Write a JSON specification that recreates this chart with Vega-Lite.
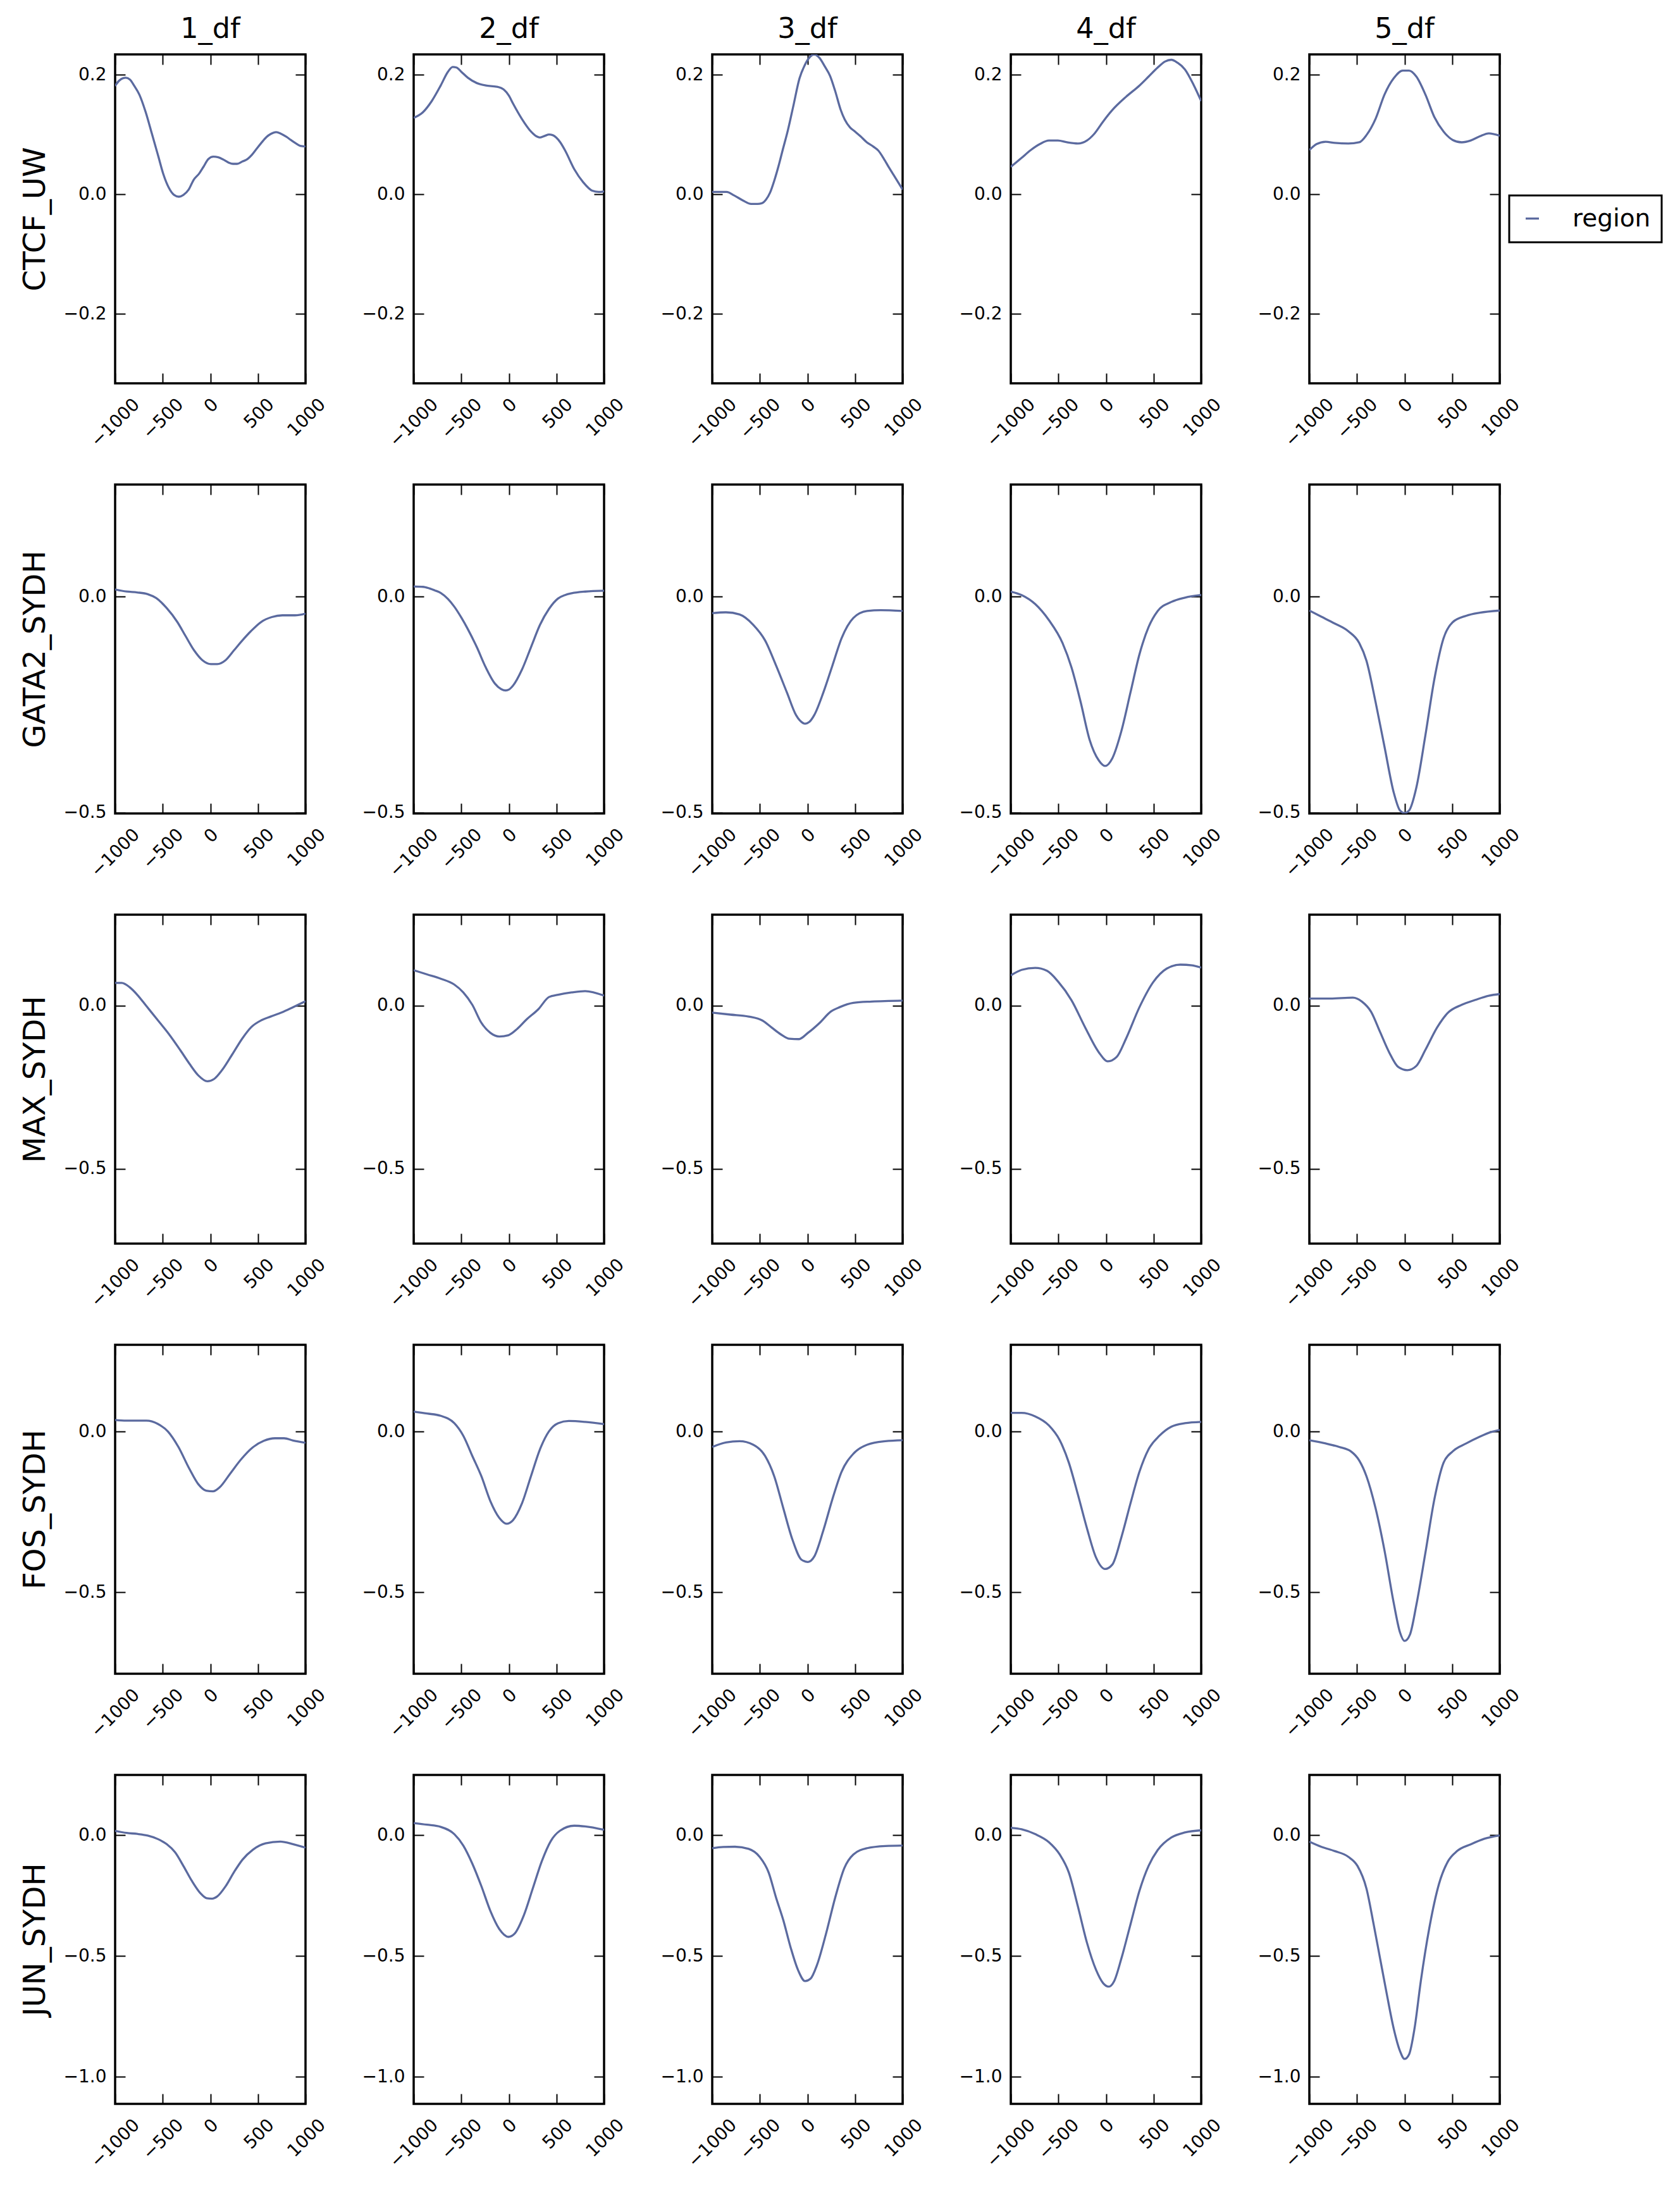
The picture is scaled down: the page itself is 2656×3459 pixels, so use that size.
{
"$schema":"https://vega.github.io/schema/vega-lite/v6.json",
"background":"white",
"padding":{"left":30,"top":21,"right":5,"bottom":5},
"columns":5,
"spacing":{"row":160,"column":171},
"bounds":"flush",
"datasets":{
"CTCF_UW_1":[{"pos":-1000,"value":0.181},{"pos":-989,"value":0.184},{"pos":-934,"value":0.193},{"pos":-890,"value":0.195},{"pos":-845,"value":0.192},{"pos":-801,"value":0.182},{"pos":-746,"value":0.167},{"pos":-680,"value":0.138},{"pos":-613,"value":0.101},{"pos":-547,"value":0.064},{"pos":-492,"value":0.033},{"pos":-436,"value":0.011},{"pos":-381,"value":-0.001},{"pos":-330,"value":-0.004},{"pos":-282,"value":-0.001},{"pos":-227,"value":0.008},{"pos":-176,"value":0.024},{"pos":-116,"value":0.035},{"pos":-72,"value":0.046},{"pos":-21,"value":0.059},{"pos":32,"value":0.063},{"pos":83,"value":0.062},{"pos":138,"value":0.058},{"pos":193,"value":0.053},{"pos":238,"value":0.051},{"pos":282,"value":0.051},{"pos":337,"value":0.055},{"pos":381,"value":0.058},{"pos":436,"value":0.066},{"pos":481,"value":0.075},{"pos":536,"value":0.086},{"pos":591,"value":0.096},{"pos":635,"value":0.101},{"pos":691,"value":0.104},{"pos":746,"value":0.101},{"pos":801,"value":0.096},{"pos":845,"value":0.091},{"pos":901,"value":0.085},{"pos":945,"value":0.081},{"pos":1000,"value":0.080}],
"CTCF_UW_2":[{"pos":-1000,"value":0.128},{"pos":-905,"value":0.137},{"pos":-810,"value":0.156},{"pos":-716,"value":0.182},{"pos":-640,"value":0.205},{"pos":-590,"value":0.213},{"pos":-550,"value":0.212},{"pos":-500,"value":0.205},{"pos":-431,"value":0.195},{"pos":-336,"value":0.186},{"pos":-242,"value":0.182},{"pos":-128,"value":0.180},{"pos":-52,"value":0.175},{"pos":0,"value":0.165},{"pos":43,"value":0.152},{"pos":137,"value":0.126},{"pos":232,"value":0.105},{"pos":290,"value":0.097},{"pos":327,"value":0.095},{"pos":380,"value":0.098},{"pos":422,"value":0.100},{"pos":460,"value":0.099},{"pos":498,"value":0.095},{"pos":540,"value":0.087},{"pos":592,"value":0.073},{"pos":687,"value":0.042},{"pos":782,"value":0.020},{"pos":877,"value":0.006},{"pos":943,"value":0.004},{"pos":1000,"value":0.005}],
"CTCF_UW_3":[{"pos":-1000,"value":0.004},{"pos":-923,"value":0.004},{"pos":-850,"value":0.004},{"pos":-768,"value":-0.002},{"pos":-680,"value":-0.010},{"pos":-591,"value":-0.016},{"pos":-525,"value":-0.016},{"pos":-481,"value":-0.015},{"pos":-436,"value":-0.009},{"pos":-392,"value":0.003},{"pos":-348,"value":0.023},{"pos":-304,"value":0.047},{"pos":-260,"value":0.074},{"pos":-204,"value":0.108},{"pos":-149,"value":0.147},{"pos":-83,"value":0.194},{"pos":-28,"value":0.216},{"pos":28,"value":0.230},{"pos":72,"value":0.234},{"pos":127,"value":0.228},{"pos":182,"value":0.214},{"pos":238,"value":0.198},{"pos":293,"value":0.172},{"pos":348,"value":0.142},{"pos":392,"value":0.125},{"pos":447,"value":0.112},{"pos":492,"value":0.106},{"pos":558,"value":0.097},{"pos":624,"value":0.087},{"pos":691,"value":0.080},{"pos":746,"value":0.073},{"pos":801,"value":0.060},{"pos":856,"value":0.045},{"pos":923,"value":0.028},{"pos":1000,"value":0.008}],
"CTCF_UW_4":[{"pos":-1000,"value":0.046},{"pos":-886,"value":0.061},{"pos":-790,"value":0.074},{"pos":-695,"value":0.084},{"pos":-600,"value":0.090},{"pos":-505,"value":0.090},{"pos":-410,"value":0.087},{"pos":-295,"value":0.085},{"pos":-200,"value":0.090},{"pos":-124,"value":0.101},{"pos":-29,"value":0.122},{"pos":67,"value":0.141},{"pos":210,"value":0.163},{"pos":352,"value":0.182},{"pos":448,"value":0.197},{"pos":543,"value":0.212},{"pos":619,"value":0.222},{"pos":686,"value":0.225},{"pos":752,"value":0.220},{"pos":829,"value":0.209},{"pos":924,"value":0.182},{"pos":1000,"value":0.156}],
"CTCF_UW_5":[{"pos":-1000,"value":0.074},{"pos":-924,"value":0.084},{"pos":-829,"value":0.088},{"pos":-733,"value":0.086},{"pos":-590,"value":0.085},{"pos":-476,"value":0.087},{"pos":-400,"value":0.099},{"pos":-305,"value":0.126},{"pos":-210,"value":0.167},{"pos":-114,"value":0.194},{"pos":-19,"value":0.207},{"pos":48,"value":0.207},{"pos":124,"value":0.197},{"pos":219,"value":0.167},{"pos":314,"value":0.129},{"pos":410,"value":0.105},{"pos":505,"value":0.091},{"pos":600,"value":0.087},{"pos":695,"value":0.090},{"pos":790,"value":0.097},{"pos":886,"value":0.102},{"pos":1000,"value":0.098}],
"GATA2_SYDH_1":[{"pos":-1000,"value":0.017},{"pos":-878,"value":0.012},{"pos":-768,"value":0.010},{"pos":-657,"value":0.006},{"pos":-569,"value":-0.003},{"pos":-459,"value":-0.026},{"pos":-348,"value":-0.058},{"pos":-260,"value":-0.091},{"pos":-171,"value":-0.124},{"pos":-83,"value":-0.147},{"pos":6,"value":-0.156},{"pos":72,"value":-0.156},{"pos":160,"value":-0.147},{"pos":249,"value":-0.124},{"pos":337,"value":-0.101},{"pos":425,"value":-0.080},{"pos":536,"value":-0.058},{"pos":646,"value":-0.047},{"pos":757,"value":-0.043},{"pos":889,"value":-0.043},{"pos":1000,"value":-0.039}],
"GATA2_SYDH_2":[{"pos":-1000,"value":0.024},{"pos":-900,"value":0.023},{"pos":-858,"value":0.021},{"pos":-780,"value":0.015},{"pos":-716,"value":0.009},{"pos":-640,"value":-0.005},{"pos":-573,"value":-0.023},{"pos":-500,"value":-0.048},{"pos":-431,"value":-0.075},{"pos":-336,"value":-0.117},{"pos":-242,"value":-0.164},{"pos":-147,"value":-0.201},{"pos":-80,"value":-0.214},{"pos":-33,"value":-0.217},{"pos":0,"value":-0.215},{"pos":43,"value":-0.206},{"pos":137,"value":-0.169},{"pos":232,"value":-0.117},{"pos":327,"value":-0.065},{"pos":422,"value":-0.028},{"pos":517,"value":-0.004},{"pos":590,"value":0.004},{"pos":659,"value":0.008},{"pos":801,"value":0.012},{"pos":1000,"value":0.014}],
"GATA2_SYDH_3":[{"pos":-1000,"value":-0.038},{"pos":-856,"value":-0.036},{"pos":-713,"value":-0.041},{"pos":-569,"value":-0.065},{"pos":-445,"value":-0.101},{"pos":-330,"value":-0.159},{"pos":-215,"value":-0.222},{"pos":-120,"value":-0.274},{"pos":-50,"value":-0.292},{"pos":-24,"value":-0.294},{"pos":20,"value":-0.290},{"pos":72,"value":-0.274},{"pos":167,"value":-0.222},{"pos":263,"value":-0.159},{"pos":359,"value":-0.096},{"pos":483,"value":-0.049},{"pos":627,"value":-0.033},{"pos":770,"value":-0.031},{"pos":1000,"value":-0.033}],
"GATA2_SYDH_4":[{"pos":-1000,"value":0.012},{"pos":-886,"value":0.004},{"pos":-743,"value":-0.017},{"pos":-600,"value":-0.054},{"pos":-457,"value":-0.107},{"pos":-362,"value":-0.164},{"pos":-267,"value":-0.243},{"pos":-171,"value":-0.332},{"pos":-76,"value":-0.379},{"pos":-10,"value":-0.392},{"pos":67,"value":-0.374},{"pos":162,"value":-0.311},{"pos":257,"value":-0.222},{"pos":352,"value":-0.133},{"pos":448,"value":-0.070},{"pos":543,"value":-0.033},{"pos":686,"value":-0.012},{"pos":829,"value":-0.002},{"pos":1000,"value":0.004}],
"GATA2_SYDH_5":[{"pos":-1000,"value":-0.032},{"pos":-876,"value":-0.046},{"pos":-733,"value":-0.062},{"pos":-590,"value":-0.080},{"pos":-476,"value":-0.107},{"pos":-400,"value":-0.148},{"pos":-305,"value":-0.243},{"pos":-210,"value":-0.348},{"pos":-114,"value":-0.453},{"pos":-48,"value":-0.495},{"pos":0,"value":-0.501},{"pos":48,"value":-0.495},{"pos":124,"value":-0.442},{"pos":219,"value":-0.321},{"pos":314,"value":-0.190},{"pos":410,"value":-0.096},{"pos":505,"value":-0.059},{"pos":648,"value":-0.044},{"pos":790,"value":-0.037},{"pos":1000,"value":-0.032}],
"MAX_SYDH_1":[{"pos":-1000,"value":0.069},{"pos":-931,"value":0.069},{"pos":-848,"value":0.056},{"pos":-765,"value":0.032},{"pos":-671,"value":-0.002},{"pos":-552,"value":-0.045},{"pos":-434,"value":-0.088},{"pos":-315,"value":-0.137},{"pos":-220,"value":-0.178},{"pos":-126,"value":-0.214},{"pos":-31,"value":-0.232},{"pos":40,"value":-0.225},{"pos":123,"value":-0.198},{"pos":230,"value":-0.150},{"pos":336,"value":-0.101},{"pos":431,"value":-0.066},{"pos":538,"value":-0.045},{"pos":633,"value":-0.034},{"pos":751,"value":-0.021},{"pos":870,"value":-0.005},{"pos":1000,"value":0.013}],
"MAX_SYDH_2":[{"pos":-1000,"value":0.108},{"pos":-858,"value":0.095},{"pos":-716,"value":0.082},{"pos":-573,"value":0.064},{"pos":-479,"value":0.040},{"pos":-384,"value":0.002},{"pos":-289,"value":-0.053},{"pos":-194,"value":-0.084},{"pos":-100,"value":-0.095},{"pos":-5,"value":-0.091},{"pos":90,"value":-0.071},{"pos":185,"value":-0.043},{"pos":308,"value":-0.012},{"pos":422,"value":0.026},{"pos":517,"value":0.033},{"pos":659,"value":0.040},{"pos":801,"value":0.044},{"pos":1000,"value":0.030}],
"MAX_SYDH_3":[{"pos":-1000,"value":-0.022},{"pos":-809,"value":-0.028},{"pos":-617,"value":-0.034},{"pos":-474,"value":-0.046},{"pos":-378,"value":-0.067},{"pos":-282,"value":-0.088},{"pos":-187,"value":-0.102},{"pos":-91,"value":-0.103},{"pos":5,"value":-0.084},{"pos":129,"value":-0.053},{"pos":244,"value":-0.019},{"pos":340,"value":-0.005},{"pos":483,"value":0.008},{"pos":675,"value":0.012},{"pos":1000,"value":0.015}],
"MAX_SYDH_4":[{"pos":-1000,"value":0.092},{"pos":-886,"value":0.109},{"pos":-743,"value":0.115},{"pos":-619,"value":0.106},{"pos":-505,"value":0.074},{"pos":-362,"value":0.016},{"pos":-219,"value":-0.067},{"pos":-76,"value":-0.143},{"pos":19,"value":-0.171},{"pos":114,"value":-0.157},{"pos":210,"value":-0.102},{"pos":352,"value":-0.005},{"pos":495,"value":0.071},{"pos":638,"value":0.113},{"pos":781,"value":0.125},{"pos":905,"value":0.123},{"pos":1000,"value":0.116}],
"MAX_SYDH_5":[{"pos":-1000,"value":0.021},{"pos":-781,"value":0.021},{"pos":-543,"value":0.024},{"pos":-448,"value":0.012},{"pos":-352,"value":-0.019},{"pos":-257,"value":-0.081},{"pos":-162,"value":-0.143},{"pos":-67,"value":-0.188},{"pos":29,"value":-0.198},{"pos":124,"value":-0.185},{"pos":219,"value":-0.136},{"pos":343,"value":-0.067},{"pos":457,"value":-0.022},{"pos":600,"value":0.002},{"pos":743,"value":0.017},{"pos":886,"value":0.030},{"pos":1000,"value":0.035}],
"FOS_SYDH_1":[{"pos":-1000,"value":0.036},{"pos":-884,"value":0.034},{"pos":-789,"value":0.034},{"pos":-671,"value":0.034},{"pos":-552,"value":0.024},{"pos":-445,"value":0.000},{"pos":-339,"value":-0.046},{"pos":-220,"value":-0.116},{"pos":-126,"value":-0.164},{"pos":-43,"value":-0.184},{"pos":28,"value":-0.186},{"pos":100,"value":-0.173},{"pos":206,"value":-0.132},{"pos":325,"value":-0.086},{"pos":443,"value":-0.050},{"pos":562,"value":-0.029},{"pos":680,"value":-0.021},{"pos":775,"value":-0.021},{"pos":870,"value":-0.028},{"pos":1000,"value":-0.035}],
"FOS_SYDH_2":[{"pos":-1000,"value":0.062},{"pos":-858,"value":0.056},{"pos":-716,"value":0.049},{"pos":-573,"value":0.026},{"pos":-479,"value":-0.013},{"pos":-384,"value":-0.076},{"pos":-289,"value":-0.139},{"pos":-194,"value":-0.217},{"pos":-100,"value":-0.269},{"pos":-24,"value":-0.287},{"pos":43,"value":-0.276},{"pos":137,"value":-0.224},{"pos":232,"value":-0.139},{"pos":327,"value":-0.055},{"pos":422,"value":0.001},{"pos":517,"value":0.026},{"pos":630,"value":0.033},{"pos":801,"value":0.030},{"pos":1000,"value":0.023}],
"FOS_SYDH_3":[{"pos":-1000,"value":-0.048},{"pos":-856,"value":-0.034},{"pos":-713,"value":-0.030},{"pos":-569,"value":-0.041},{"pos":-445,"value":-0.076},{"pos":-349,"value":-0.139},{"pos":-254,"value":-0.238},{"pos":-158,"value":-0.336},{"pos":-62,"value":-0.399},{"pos":5,"value":-0.406},{"pos":72,"value":-0.389},{"pos":167,"value":-0.308},{"pos":263,"value":-0.210},{"pos":359,"value":-0.125},{"pos":483,"value":-0.069},{"pos":627,"value":-0.041},{"pos":818,"value":-0.030},{"pos":1000,"value":-0.027}],
"FOS_SYDH_4":[{"pos":-1000,"value":0.058},{"pos":-886,"value":0.058},{"pos":-743,"value":0.047},{"pos":-600,"value":0.019},{"pos":-486,"value":-0.027},{"pos":-390,"value":-0.097},{"pos":-295,"value":-0.196},{"pos":-200,"value":-0.301},{"pos":-105,"value":-0.392},{"pos":-10,"value":-0.428},{"pos":67,"value":-0.414},{"pos":162,"value":-0.329},{"pos":257,"value":-0.224},{"pos":352,"value":-0.125},{"pos":448,"value":-0.055},{"pos":562,"value":-0.013},{"pos":686,"value":0.015},{"pos":829,"value":0.026},{"pos":1000,"value":0.030}],
"FOS_SYDH_5":[{"pos":-1000,"value":-0.027},{"pos":-829,"value":-0.037},{"pos":-686,"value":-0.048},{"pos":-562,"value":-0.062},{"pos":-476,"value":-0.090},{"pos":-400,"value":-0.139},{"pos":-305,"value":-0.238},{"pos":-210,"value":-0.371},{"pos":-114,"value":-0.533},{"pos":-48,"value":-0.625},{"pos":0,"value":-0.652},{"pos":57,"value":-0.632},{"pos":124,"value":-0.540},{"pos":219,"value":-0.378},{"pos":314,"value":-0.210},{"pos":410,"value":-0.097},{"pos":505,"value":-0.062},{"pos":648,"value":-0.037},{"pos":790,"value":-0.016},{"pos":905,"value":-0.002},{"pos":1000,"value":0.005}],
"JUN_SYDH_1":[{"pos":-1000,"value":0.018},{"pos":-878,"value":0.009},{"pos":-768,"value":0.005},{"pos":-657,"value":-0.002},{"pos":-547,"value":-0.017},{"pos":-459,"value":-0.037},{"pos":-370,"value":-0.071},{"pos":-282,"value":-0.128},{"pos":-193,"value":-0.190},{"pos":-105,"value":-0.240},{"pos":-39,"value":-0.261},{"pos":17,"value":-0.263},{"pos":72,"value":-0.254},{"pos":160,"value":-0.212},{"pos":249,"value":-0.153},{"pos":337,"value":-0.102},{"pos":448,"value":-0.060},{"pos":580,"value":-0.034},{"pos":735,"value":-0.027},{"pos":867,"value":-0.037},{"pos":1000,"value":-0.052}],
"JUN_SYDH_2":[{"pos":-1000,"value":0.050},{"pos":-858,"value":0.043},{"pos":-716,"value":0.034},{"pos":-573,"value":0.004},{"pos":-479,"value":-0.043},{"pos":-384,"value":-0.118},{"pos":-289,"value":-0.211},{"pos":-194,"value":-0.314},{"pos":-100,"value":-0.389},{"pos":-5,"value":-0.421},{"pos":62,"value":-0.407},{"pos":156,"value":-0.333},{"pos":251,"value":-0.221},{"pos":346,"value":-0.108},{"pos":441,"value":-0.024},{"pos":536,"value":0.018},{"pos":687,"value":0.039},{"pos":801,"value":0.036},{"pos":1000,"value":0.022}],
"JUN_SYDH_3":[{"pos":-1000,"value":-0.054},{"pos":-885,"value":-0.049},{"pos":-761,"value":-0.048},{"pos":-617,"value":-0.057},{"pos":-502,"value":-0.090},{"pos":-407,"value":-0.155},{"pos":-330,"value":-0.258},{"pos":-254,"value":-0.351},{"pos":-177,"value":-0.464},{"pos":-100,"value":-0.557},{"pos":-24,"value":-0.604},{"pos":33,"value":-0.594},{"pos":100,"value":-0.538},{"pos":196,"value":-0.407},{"pos":292,"value":-0.258},{"pos":388,"value":-0.136},{"pos":483,"value":-0.080},{"pos":627,"value":-0.054},{"pos":818,"value":-0.045},{"pos":1000,"value":-0.043}],
"JUN_SYDH_4":[{"pos":-1000,"value":0.030},{"pos":-886,"value":0.024},{"pos":-743,"value":0.004},{"pos":-600,"value":-0.029},{"pos":-486,"value":-0.080},{"pos":-390,"value":-0.155},{"pos":-295,"value":-0.295},{"pos":-200,"value":-0.445},{"pos":-105,"value":-0.557},{"pos":-29,"value":-0.613},{"pos":29,"value":-0.627},{"pos":86,"value":-0.604},{"pos":162,"value":-0.510},{"pos":257,"value":-0.370},{"pos":352,"value":-0.230},{"pos":448,"value":-0.127},{"pos":543,"value":-0.062},{"pos":686,"value":-0.010},{"pos":829,"value":0.011},{"pos":1000,"value":0.020}],
"JUN_SYDH_5":[{"pos":-1000,"value":-0.027},{"pos":-876,"value":-0.048},{"pos":-733,"value":-0.066},{"pos":-590,"value":-0.090},{"pos":-495,"value":-0.127},{"pos":-400,"value":-0.221},{"pos":-324,"value":-0.370},{"pos":-257,"value":-0.510},{"pos":-190,"value":-0.650},{"pos":-114,"value":-0.800},{"pos":-48,"value":-0.893},{"pos":0,"value":-0.926},{"pos":48,"value":-0.907},{"pos":105,"value":-0.800},{"pos":171,"value":-0.604},{"pos":267,"value":-0.370},{"pos":362,"value":-0.202},{"pos":457,"value":-0.108},{"pos":552,"value":-0.066},{"pos":695,"value":-0.038},{"pos":838,"value":-0.015},{"pos":1000,"value":-0.001}]
},
"concat":[
{"data":{"name":"CTCF_UW_1"},"width":301,"height":520,"title":"1_df","layer":[{"mark":{"type":"line","interpolate":"monotone","clip":true},"encoding":{"x":{"field":"pos","type":"quantitative","scale":{"domain":[-1000,1000],"nice":false,"zero":false},"axis":{"values":[-1000,-500,0,500,1000],"format":"d","title":null,"labelOffset":{"condition":[{"test":"datum.value==-1000","value":24},{"test":"datum.value==-500","value":18},{"test":"datum.value==500","value":11},{"test":"datum.value==1000","value":17}],"value":-2}}},"y":{"field":"value","type":"quantitative","scale":{"domain":[-0.316,0.234],"nice":false,"zero":false},"axis":{"values":[-0.2,0,0.2],"format":".1f","title":"CTCF_UW"}},"color":{"datum":"region","type":"nominal","legend":{"title":null,"orient":"none","legendX":2204,"legendY":223}}}},{"mark":{"type":"line","opacity":0},"encoding":{"x":{"field":"pos","type":"quantitative","axis":{"orient":"top","values":[-1000,-500,0,500,1000],"title":null}},"y":{"field":"value","type":"quantitative","axis":{"orient":"right","values":[-0.2,0,0.2],"title":null}}}}],"resolve":{"axis":{"x":"independent","y":"independent"}}},
{"data":{"name":"CTCF_UW_2"},"width":301,"height":520,"title":"2_df","layer":[{"mark":{"type":"line","interpolate":"monotone","clip":true},"encoding":{"x":{"field":"pos","type":"quantitative","scale":{"domain":[-1000,1000],"nice":false,"zero":false},"axis":{"values":[-1000,-500,0,500,1000],"format":"d","title":null,"labelOffset":{"condition":[{"test":"datum.value==-1000","value":24},{"test":"datum.value==-500","value":18},{"test":"datum.value==500","value":11},{"test":"datum.value==1000","value":17}],"value":-2}}},"y":{"field":"value","type":"quantitative","scale":{"domain":[-0.316,0.234],"nice":false,"zero":false},"axis":{"values":[-0.2,0,0.2],"format":".1f","title":null}},"color":{"datum":"region","type":"nominal","legend":{"title":null,"orient":"none","legendX":2204,"legendY":223}}}},{"mark":{"type":"line","opacity":0},"encoding":{"x":{"field":"pos","type":"quantitative","axis":{"orient":"top","values":[-1000,-500,0,500,1000],"title":null}},"y":{"field":"value","type":"quantitative","axis":{"orient":"right","values":[-0.2,0,0.2],"title":null}}}}],"resolve":{"axis":{"x":"independent","y":"independent"}}},
{"data":{"name":"CTCF_UW_3"},"width":301,"height":520,"title":"3_df","layer":[{"mark":{"type":"line","interpolate":"monotone","clip":true},"encoding":{"x":{"field":"pos","type":"quantitative","scale":{"domain":[-1000,1000],"nice":false,"zero":false},"axis":{"values":[-1000,-500,0,500,1000],"format":"d","title":null,"labelOffset":{"condition":[{"test":"datum.value==-1000","value":24},{"test":"datum.value==-500","value":18},{"test":"datum.value==500","value":11},{"test":"datum.value==1000","value":17}],"value":-2}}},"y":{"field":"value","type":"quantitative","scale":{"domain":[-0.316,0.234],"nice":false,"zero":false},"axis":{"values":[-0.2,0,0.2],"format":".1f","title":null}},"color":{"datum":"region","type":"nominal","legend":{"title":null,"orient":"none","legendX":2204,"legendY":223}}}},{"mark":{"type":"line","opacity":0},"encoding":{"x":{"field":"pos","type":"quantitative","axis":{"orient":"top","values":[-1000,-500,0,500,1000],"title":null}},"y":{"field":"value","type":"quantitative","axis":{"orient":"right","values":[-0.2,0,0.2],"title":null}}}}],"resolve":{"axis":{"x":"independent","y":"independent"}}},
{"data":{"name":"CTCF_UW_4"},"width":301,"height":520,"title":"4_df","layer":[{"mark":{"type":"line","interpolate":"monotone","clip":true},"encoding":{"x":{"field":"pos","type":"quantitative","scale":{"domain":[-1000,1000],"nice":false,"zero":false},"axis":{"values":[-1000,-500,0,500,1000],"format":"d","title":null,"labelOffset":{"condition":[{"test":"datum.value==-1000","value":24},{"test":"datum.value==-500","value":18},{"test":"datum.value==500","value":11},{"test":"datum.value==1000","value":17}],"value":-2}}},"y":{"field":"value","type":"quantitative","scale":{"domain":[-0.316,0.234],"nice":false,"zero":false},"axis":{"values":[-0.2,0,0.2],"format":".1f","title":null}},"color":{"datum":"region","type":"nominal","legend":{"title":null,"orient":"none","legendX":2204,"legendY":223}}}},{"mark":{"type":"line","opacity":0},"encoding":{"x":{"field":"pos","type":"quantitative","axis":{"orient":"top","values":[-1000,-500,0,500,1000],"title":null}},"y":{"field":"value","type":"quantitative","axis":{"orient":"right","values":[-0.2,0,0.2],"title":null}}}}],"resolve":{"axis":{"x":"independent","y":"independent"}}},
{"data":{"name":"CTCF_UW_5"},"width":301,"height":520,"title":"5_df","layer":[{"mark":{"type":"line","interpolate":"monotone","clip":true},"encoding":{"x":{"field":"pos","type":"quantitative","scale":{"domain":[-1000,1000],"nice":false,"zero":false},"axis":{"values":[-1000,-500,0,500,1000],"format":"d","title":null,"labelOffset":{"condition":[{"test":"datum.value==-1000","value":24},{"test":"datum.value==-500","value":18},{"test":"datum.value==500","value":11},{"test":"datum.value==1000","value":17}],"value":-2}}},"y":{"field":"value","type":"quantitative","scale":{"domain":[-0.316,0.234],"nice":false,"zero":false},"axis":{"values":[-0.2,0,0.2],"format":".1f","title":null}},"color":{"datum":"region","type":"nominal","legend":{"title":null,"orient":"none","legendX":2204,"legendY":223}}}},{"mark":{"type":"line","opacity":0},"encoding":{"x":{"field":"pos","type":"quantitative","axis":{"orient":"top","values":[-1000,-500,0,500,1000],"title":null}},"y":{"field":"value","type":"quantitative","axis":{"orient":"right","values":[-0.2,0,0.2],"title":null}}}}],"resolve":{"axis":{"x":"independent","y":"independent"}}},
{"data":{"name":"GATA2_SYDH_1"},"width":301,"height":520,"layer":[{"mark":{"type":"line","interpolate":"monotone","clip":true},"encoding":{"x":{"field":"pos","type":"quantitative","scale":{"domain":[-1000,1000],"nice":false,"zero":false},"axis":{"values":[-1000,-500,0,500,1000],"format":"d","title":null,"labelOffset":{"condition":[{"test":"datum.value==-1000","value":24},{"test":"datum.value==-500","value":18},{"test":"datum.value==500","value":11},{"test":"datum.value==1000","value":17}],"value":-2}}},"y":{"field":"value","type":"quantitative","scale":{"domain":[-0.502,0.26],"nice":false,"zero":false},"axis":{"values":[-0.5,0],"format":".1f","title":"GATA2_SYDH"}},"color":{"datum":"region","type":"nominal","legend":{"title":null,"orient":"none","legendX":2204,"legendY":223}}}},{"mark":{"type":"line","opacity":0},"encoding":{"x":{"field":"pos","type":"quantitative","axis":{"orient":"top","values":[-1000,-500,0,500,1000],"title":null}},"y":{"field":"value","type":"quantitative","axis":{"orient":"right","values":[-0.5,0],"title":null}}}}],"resolve":{"axis":{"x":"independent","y":"independent"}}},
{"data":{"name":"GATA2_SYDH_2"},"width":301,"height":520,"layer":[{"mark":{"type":"line","interpolate":"monotone","clip":true},"encoding":{"x":{"field":"pos","type":"quantitative","scale":{"domain":[-1000,1000],"nice":false,"zero":false},"axis":{"values":[-1000,-500,0,500,1000],"format":"d","title":null,"labelOffset":{"condition":[{"test":"datum.value==-1000","value":24},{"test":"datum.value==-500","value":18},{"test":"datum.value==500","value":11},{"test":"datum.value==1000","value":17}],"value":-2}}},"y":{"field":"value","type":"quantitative","scale":{"domain":[-0.502,0.26],"nice":false,"zero":false},"axis":{"values":[-0.5,0],"format":".1f","title":null}},"color":{"datum":"region","type":"nominal","legend":{"title":null,"orient":"none","legendX":2204,"legendY":223}}}},{"mark":{"type":"line","opacity":0},"encoding":{"x":{"field":"pos","type":"quantitative","axis":{"orient":"top","values":[-1000,-500,0,500,1000],"title":null}},"y":{"field":"value","type":"quantitative","axis":{"orient":"right","values":[-0.5,0],"title":null}}}}],"resolve":{"axis":{"x":"independent","y":"independent"}}},
{"data":{"name":"GATA2_SYDH_3"},"width":301,"height":520,"layer":[{"mark":{"type":"line","interpolate":"monotone","clip":true},"encoding":{"x":{"field":"pos","type":"quantitative","scale":{"domain":[-1000,1000],"nice":false,"zero":false},"axis":{"values":[-1000,-500,0,500,1000],"format":"d","title":null,"labelOffset":{"condition":[{"test":"datum.value==-1000","value":24},{"test":"datum.value==-500","value":18},{"test":"datum.value==500","value":11},{"test":"datum.value==1000","value":17}],"value":-2}}},"y":{"field":"value","type":"quantitative","scale":{"domain":[-0.502,0.26],"nice":false,"zero":false},"axis":{"values":[-0.5,0],"format":".1f","title":null}},"color":{"datum":"region","type":"nominal","legend":{"title":null,"orient":"none","legendX":2204,"legendY":223}}}},{"mark":{"type":"line","opacity":0},"encoding":{"x":{"field":"pos","type":"quantitative","axis":{"orient":"top","values":[-1000,-500,0,500,1000],"title":null}},"y":{"field":"value","type":"quantitative","axis":{"orient":"right","values":[-0.5,0],"title":null}}}}],"resolve":{"axis":{"x":"independent","y":"independent"}}},
{"data":{"name":"GATA2_SYDH_4"},"width":301,"height":520,"layer":[{"mark":{"type":"line","interpolate":"monotone","clip":true},"encoding":{"x":{"field":"pos","type":"quantitative","scale":{"domain":[-1000,1000],"nice":false,"zero":false},"axis":{"values":[-1000,-500,0,500,1000],"format":"d","title":null,"labelOffset":{"condition":[{"test":"datum.value==-1000","value":24},{"test":"datum.value==-500","value":18},{"test":"datum.value==500","value":11},{"test":"datum.value==1000","value":17}],"value":-2}}},"y":{"field":"value","type":"quantitative","scale":{"domain":[-0.502,0.26],"nice":false,"zero":false},"axis":{"values":[-0.5,0],"format":".1f","title":null}},"color":{"datum":"region","type":"nominal","legend":{"title":null,"orient":"none","legendX":2204,"legendY":223}}}},{"mark":{"type":"line","opacity":0},"encoding":{"x":{"field":"pos","type":"quantitative","axis":{"orient":"top","values":[-1000,-500,0,500,1000],"title":null}},"y":{"field":"value","type":"quantitative","axis":{"orient":"right","values":[-0.5,0],"title":null}}}}],"resolve":{"axis":{"x":"independent","y":"independent"}}},
{"data":{"name":"GATA2_SYDH_5"},"width":301,"height":520,"layer":[{"mark":{"type":"line","interpolate":"monotone","clip":true},"encoding":{"x":{"field":"pos","type":"quantitative","scale":{"domain":[-1000,1000],"nice":false,"zero":false},"axis":{"values":[-1000,-500,0,500,1000],"format":"d","title":null,"labelOffset":{"condition":[{"test":"datum.value==-1000","value":24},{"test":"datum.value==-500","value":18},{"test":"datum.value==500","value":11},{"test":"datum.value==1000","value":17}],"value":-2}}},"y":{"field":"value","type":"quantitative","scale":{"domain":[-0.502,0.26],"nice":false,"zero":false},"axis":{"values":[-0.5,0],"format":".1f","title":null}},"color":{"datum":"region","type":"nominal","legend":{"title":null,"orient":"none","legendX":2204,"legendY":223}}}},{"mark":{"type":"line","opacity":0},"encoding":{"x":{"field":"pos","type":"quantitative","axis":{"orient":"top","values":[-1000,-500,0,500,1000],"title":null}},"y":{"field":"value","type":"quantitative","axis":{"orient":"right","values":[-0.5,0],"title":null}}}}],"resolve":{"axis":{"x":"independent","y":"independent"}}},
{"data":{"name":"MAX_SYDH_1"},"width":301,"height":520,"layer":[{"mark":{"type":"line","interpolate":"monotone","clip":true},"encoding":{"x":{"field":"pos","type":"quantitative","scale":{"domain":[-1000,1000],"nice":false,"zero":false},"axis":{"values":[-1000,-500,0,500,1000],"format":"d","title":null,"labelOffset":{"condition":[{"test":"datum.value==-1000","value":24},{"test":"datum.value==-500","value":18},{"test":"datum.value==500","value":11},{"test":"datum.value==1000","value":17}],"value":-2}}},"y":{"field":"value","type":"quantitative","scale":{"domain":[-0.729,0.278],"nice":false,"zero":false},"axis":{"values":[-0.5,0],"format":".1f","title":"MAX_SYDH"}},"color":{"datum":"region","type":"nominal","legend":{"title":null,"orient":"none","legendX":2204,"legendY":223}}}},{"mark":{"type":"line","opacity":0},"encoding":{"x":{"field":"pos","type":"quantitative","axis":{"orient":"top","values":[-1000,-500,0,500,1000],"title":null}},"y":{"field":"value","type":"quantitative","axis":{"orient":"right","values":[-0.5,0],"title":null}}}}],"resolve":{"axis":{"x":"independent","y":"independent"}}},
{"data":{"name":"MAX_SYDH_2"},"width":301,"height":520,"layer":[{"mark":{"type":"line","interpolate":"monotone","clip":true},"encoding":{"x":{"field":"pos","type":"quantitative","scale":{"domain":[-1000,1000],"nice":false,"zero":false},"axis":{"values":[-1000,-500,0,500,1000],"format":"d","title":null,"labelOffset":{"condition":[{"test":"datum.value==-1000","value":24},{"test":"datum.value==-500","value":18},{"test":"datum.value==500","value":11},{"test":"datum.value==1000","value":17}],"value":-2}}},"y":{"field":"value","type":"quantitative","scale":{"domain":[-0.729,0.278],"nice":false,"zero":false},"axis":{"values":[-0.5,0],"format":".1f","title":null}},"color":{"datum":"region","type":"nominal","legend":{"title":null,"orient":"none","legendX":2204,"legendY":223}}}},{"mark":{"type":"line","opacity":0},"encoding":{"x":{"field":"pos","type":"quantitative","axis":{"orient":"top","values":[-1000,-500,0,500,1000],"title":null}},"y":{"field":"value","type":"quantitative","axis":{"orient":"right","values":[-0.5,0],"title":null}}}}],"resolve":{"axis":{"x":"independent","y":"independent"}}},
{"data":{"name":"MAX_SYDH_3"},"width":301,"height":520,"layer":[{"mark":{"type":"line","interpolate":"monotone","clip":true},"encoding":{"x":{"field":"pos","type":"quantitative","scale":{"domain":[-1000,1000],"nice":false,"zero":false},"axis":{"values":[-1000,-500,0,500,1000],"format":"d","title":null,"labelOffset":{"condition":[{"test":"datum.value==-1000","value":24},{"test":"datum.value==-500","value":18},{"test":"datum.value==500","value":11},{"test":"datum.value==1000","value":17}],"value":-2}}},"y":{"field":"value","type":"quantitative","scale":{"domain":[-0.729,0.278],"nice":false,"zero":false},"axis":{"values":[-0.5,0],"format":".1f","title":null}},"color":{"datum":"region","type":"nominal","legend":{"title":null,"orient":"none","legendX":2204,"legendY":223}}}},{"mark":{"type":"line","opacity":0},"encoding":{"x":{"field":"pos","type":"quantitative","axis":{"orient":"top","values":[-1000,-500,0,500,1000],"title":null}},"y":{"field":"value","type":"quantitative","axis":{"orient":"right","values":[-0.5,0],"title":null}}}}],"resolve":{"axis":{"x":"independent","y":"independent"}}},
{"data":{"name":"MAX_SYDH_4"},"width":301,"height":520,"layer":[{"mark":{"type":"line","interpolate":"monotone","clip":true},"encoding":{"x":{"field":"pos","type":"quantitative","scale":{"domain":[-1000,1000],"nice":false,"zero":false},"axis":{"values":[-1000,-500,0,500,1000],"format":"d","title":null,"labelOffset":{"condition":[{"test":"datum.value==-1000","value":24},{"test":"datum.value==-500","value":18},{"test":"datum.value==500","value":11},{"test":"datum.value==1000","value":17}],"value":-2}}},"y":{"field":"value","type":"quantitative","scale":{"domain":[-0.729,0.278],"nice":false,"zero":false},"axis":{"values":[-0.5,0],"format":".1f","title":null}},"color":{"datum":"region","type":"nominal","legend":{"title":null,"orient":"none","legendX":2204,"legendY":223}}}},{"mark":{"type":"line","opacity":0},"encoding":{"x":{"field":"pos","type":"quantitative","axis":{"orient":"top","values":[-1000,-500,0,500,1000],"title":null}},"y":{"field":"value","type":"quantitative","axis":{"orient":"right","values":[-0.5,0],"title":null}}}}],"resolve":{"axis":{"x":"independent","y":"independent"}}},
{"data":{"name":"MAX_SYDH_5"},"width":301,"height":520,"layer":[{"mark":{"type":"line","interpolate":"monotone","clip":true},"encoding":{"x":{"field":"pos","type":"quantitative","scale":{"domain":[-1000,1000],"nice":false,"zero":false},"axis":{"values":[-1000,-500,0,500,1000],"format":"d","title":null,"labelOffset":{"condition":[{"test":"datum.value==-1000","value":24},{"test":"datum.value==-500","value":18},{"test":"datum.value==500","value":11},{"test":"datum.value==1000","value":17}],"value":-2}}},"y":{"field":"value","type":"quantitative","scale":{"domain":[-0.729,0.278],"nice":false,"zero":false},"axis":{"values":[-0.5,0],"format":".1f","title":null}},"color":{"datum":"region","type":"nominal","legend":{"title":null,"orient":"none","legendX":2204,"legendY":223}}}},{"mark":{"type":"line","opacity":0},"encoding":{"x":{"field":"pos","type":"quantitative","axis":{"orient":"top","values":[-1000,-500,0,500,1000],"title":null}},"y":{"field":"value","type":"quantitative","axis":{"orient":"right","values":[-0.5,0],"title":null}}}}],"resolve":{"axis":{"x":"independent","y":"independent"}}},
{"data":{"name":"FOS_SYDH_1"},"width":301,"height":520,"layer":[{"mark":{"type":"line","interpolate":"monotone","clip":true},"encoding":{"x":{"field":"pos","type":"quantitative","scale":{"domain":[-1000,1000],"nice":false,"zero":false},"axis":{"values":[-1000,-500,0,500,1000],"format":"d","title":null,"labelOffset":{"condition":[{"test":"datum.value==-1000","value":24},{"test":"datum.value==-500","value":18},{"test":"datum.value==500","value":11},{"test":"datum.value==1000","value":17}],"value":-2}}},"y":{"field":"value","type":"quantitative","scale":{"domain":[-0.754,0.27],"nice":false,"zero":false},"axis":{"values":[-0.5,0],"format":".1f","title":"FOS_SYDH"}},"color":{"datum":"region","type":"nominal","legend":{"title":null,"orient":"none","legendX":2204,"legendY":223}}}},{"mark":{"type":"line","opacity":0},"encoding":{"x":{"field":"pos","type":"quantitative","axis":{"orient":"top","values":[-1000,-500,0,500,1000],"title":null}},"y":{"field":"value","type":"quantitative","axis":{"orient":"right","values":[-0.5,0],"title":null}}}}],"resolve":{"axis":{"x":"independent","y":"independent"}}},
{"data":{"name":"FOS_SYDH_2"},"width":301,"height":520,"layer":[{"mark":{"type":"line","interpolate":"monotone","clip":true},"encoding":{"x":{"field":"pos","type":"quantitative","scale":{"domain":[-1000,1000],"nice":false,"zero":false},"axis":{"values":[-1000,-500,0,500,1000],"format":"d","title":null,"labelOffset":{"condition":[{"test":"datum.value==-1000","value":24},{"test":"datum.value==-500","value":18},{"test":"datum.value==500","value":11},{"test":"datum.value==1000","value":17}],"value":-2}}},"y":{"field":"value","type":"quantitative","scale":{"domain":[-0.754,0.27],"nice":false,"zero":false},"axis":{"values":[-0.5,0],"format":".1f","title":null}},"color":{"datum":"region","type":"nominal","legend":{"title":null,"orient":"none","legendX":2204,"legendY":223}}}},{"mark":{"type":"line","opacity":0},"encoding":{"x":{"field":"pos","type":"quantitative","axis":{"orient":"top","values":[-1000,-500,0,500,1000],"title":null}},"y":{"field":"value","type":"quantitative","axis":{"orient":"right","values":[-0.5,0],"title":null}}}}],"resolve":{"axis":{"x":"independent","y":"independent"}}},
{"data":{"name":"FOS_SYDH_3"},"width":301,"height":520,"layer":[{"mark":{"type":"line","interpolate":"monotone","clip":true},"encoding":{"x":{"field":"pos","type":"quantitative","scale":{"domain":[-1000,1000],"nice":false,"zero":false},"axis":{"values":[-1000,-500,0,500,1000],"format":"d","title":null,"labelOffset":{"condition":[{"test":"datum.value==-1000","value":24},{"test":"datum.value==-500","value":18},{"test":"datum.value==500","value":11},{"test":"datum.value==1000","value":17}],"value":-2}}},"y":{"field":"value","type":"quantitative","scale":{"domain":[-0.754,0.27],"nice":false,"zero":false},"axis":{"values":[-0.5,0],"format":".1f","title":null}},"color":{"datum":"region","type":"nominal","legend":{"title":null,"orient":"none","legendX":2204,"legendY":223}}}},{"mark":{"type":"line","opacity":0},"encoding":{"x":{"field":"pos","type":"quantitative","axis":{"orient":"top","values":[-1000,-500,0,500,1000],"title":null}},"y":{"field":"value","type":"quantitative","axis":{"orient":"right","values":[-0.5,0],"title":null}}}}],"resolve":{"axis":{"x":"independent","y":"independent"}}},
{"data":{"name":"FOS_SYDH_4"},"width":301,"height":520,"layer":[{"mark":{"type":"line","interpolate":"monotone","clip":true},"encoding":{"x":{"field":"pos","type":"quantitative","scale":{"domain":[-1000,1000],"nice":false,"zero":false},"axis":{"values":[-1000,-500,0,500,1000],"format":"d","title":null,"labelOffset":{"condition":[{"test":"datum.value==-1000","value":24},{"test":"datum.value==-500","value":18},{"test":"datum.value==500","value":11},{"test":"datum.value==1000","value":17}],"value":-2}}},"y":{"field":"value","type":"quantitative","scale":{"domain":[-0.754,0.27],"nice":false,"zero":false},"axis":{"values":[-0.5,0],"format":".1f","title":null}},"color":{"datum":"region","type":"nominal","legend":{"title":null,"orient":"none","legendX":2204,"legendY":223}}}},{"mark":{"type":"line","opacity":0},"encoding":{"x":{"field":"pos","type":"quantitative","axis":{"orient":"top","values":[-1000,-500,0,500,1000],"title":null}},"y":{"field":"value","type":"quantitative","axis":{"orient":"right","values":[-0.5,0],"title":null}}}}],"resolve":{"axis":{"x":"independent","y":"independent"}}},
{"data":{"name":"FOS_SYDH_5"},"width":301,"height":520,"layer":[{"mark":{"type":"line","interpolate":"monotone","clip":true},"encoding":{"x":{"field":"pos","type":"quantitative","scale":{"domain":[-1000,1000],"nice":false,"zero":false},"axis":{"values":[-1000,-500,0,500,1000],"format":"d","title":null,"labelOffset":{"condition":[{"test":"datum.value==-1000","value":24},{"test":"datum.value==-500","value":18},{"test":"datum.value==500","value":11},{"test":"datum.value==1000","value":17}],"value":-2}}},"y":{"field":"value","type":"quantitative","scale":{"domain":[-0.754,0.27],"nice":false,"zero":false},"axis":{"values":[-0.5,0],"format":".1f","title":null}},"color":{"datum":"region","type":"nominal","legend":{"title":null,"orient":"none","legendX":2204,"legendY":223}}}},{"mark":{"type":"line","opacity":0},"encoding":{"x":{"field":"pos","type":"quantitative","axis":{"orient":"top","values":[-1000,-500,0,500,1000],"title":null}},"y":{"field":"value","type":"quantitative","axis":{"orient":"right","values":[-0.5,0],"title":null}}}}],"resolve":{"axis":{"x":"independent","y":"independent"}}},
{"data":{"name":"JUN_SYDH_1"},"width":301,"height":520,"layer":[{"mark":{"type":"line","interpolate":"monotone","clip":true},"encoding":{"x":{"field":"pos","type":"quantitative","scale":{"domain":[-1000,1000],"nice":false,"zero":false},"axis":{"values":[-1000,-500,0,500,1000],"format":"d","title":null,"labelOffset":{"condition":[{"test":"datum.value==-1000","value":24},{"test":"datum.value==-500","value":18},{"test":"datum.value==500","value":11},{"test":"datum.value==1000","value":17}],"value":-2}}},"y":{"field":"value","type":"quantitative","scale":{"domain":[-1.112,0.249],"nice":false,"zero":false},"axis":{"values":[-1,-0.5,0],"format":".1f","title":"JUN_SYDH"}},"color":{"datum":"region","type":"nominal","legend":{"title":null,"orient":"none","legendX":2204,"legendY":223}}}},{"mark":{"type":"line","opacity":0},"encoding":{"x":{"field":"pos","type":"quantitative","axis":{"orient":"top","values":[-1000,-500,0,500,1000],"title":null}},"y":{"field":"value","type":"quantitative","axis":{"orient":"right","values":[-1,-0.5,0],"title":null}}}}],"resolve":{"axis":{"x":"independent","y":"independent"}}},
{"data":{"name":"JUN_SYDH_2"},"width":301,"height":520,"layer":[{"mark":{"type":"line","interpolate":"monotone","clip":true},"encoding":{"x":{"field":"pos","type":"quantitative","scale":{"domain":[-1000,1000],"nice":false,"zero":false},"axis":{"values":[-1000,-500,0,500,1000],"format":"d","title":null,"labelOffset":{"condition":[{"test":"datum.value==-1000","value":24},{"test":"datum.value==-500","value":18},{"test":"datum.value==500","value":11},{"test":"datum.value==1000","value":17}],"value":-2}}},"y":{"field":"value","type":"quantitative","scale":{"domain":[-1.112,0.249],"nice":false,"zero":false},"axis":{"values":[-1,-0.5,0],"format":".1f","title":null}},"color":{"datum":"region","type":"nominal","legend":{"title":null,"orient":"none","legendX":2204,"legendY":223}}}},{"mark":{"type":"line","opacity":0},"encoding":{"x":{"field":"pos","type":"quantitative","axis":{"orient":"top","values":[-1000,-500,0,500,1000],"title":null}},"y":{"field":"value","type":"quantitative","axis":{"orient":"right","values":[-1,-0.5,0],"title":null}}}}],"resolve":{"axis":{"x":"independent","y":"independent"}}},
{"data":{"name":"JUN_SYDH_3"},"width":301,"height":520,"layer":[{"mark":{"type":"line","interpolate":"monotone","clip":true},"encoding":{"x":{"field":"pos","type":"quantitative","scale":{"domain":[-1000,1000],"nice":false,"zero":false},"axis":{"values":[-1000,-500,0,500,1000],"format":"d","title":null,"labelOffset":{"condition":[{"test":"datum.value==-1000","value":24},{"test":"datum.value==-500","value":18},{"test":"datum.value==500","value":11},{"test":"datum.value==1000","value":17}],"value":-2}}},"y":{"field":"value","type":"quantitative","scale":{"domain":[-1.112,0.249],"nice":false,"zero":false},"axis":{"values":[-1,-0.5,0],"format":".1f","title":null}},"color":{"datum":"region","type":"nominal","legend":{"title":null,"orient":"none","legendX":2204,"legendY":223}}}},{"mark":{"type":"line","opacity":0},"encoding":{"x":{"field":"pos","type":"quantitative","axis":{"orient":"top","values":[-1000,-500,0,500,1000],"title":null}},"y":{"field":"value","type":"quantitative","axis":{"orient":"right","values":[-1,-0.5,0],"title":null}}}}],"resolve":{"axis":{"x":"independent","y":"independent"}}},
{"data":{"name":"JUN_SYDH_4"},"width":301,"height":520,"layer":[{"mark":{"type":"line","interpolate":"monotone","clip":true},"encoding":{"x":{"field":"pos","type":"quantitative","scale":{"domain":[-1000,1000],"nice":false,"zero":false},"axis":{"values":[-1000,-500,0,500,1000],"format":"d","title":null,"labelOffset":{"condition":[{"test":"datum.value==-1000","value":24},{"test":"datum.value==-500","value":18},{"test":"datum.value==500","value":11},{"test":"datum.value==1000","value":17}],"value":-2}}},"y":{"field":"value","type":"quantitative","scale":{"domain":[-1.112,0.249],"nice":false,"zero":false},"axis":{"values":[-1,-0.5,0],"format":".1f","title":null}},"color":{"datum":"region","type":"nominal","legend":{"title":null,"orient":"none","legendX":2204,"legendY":223}}}},{"mark":{"type":"line","opacity":0},"encoding":{"x":{"field":"pos","type":"quantitative","axis":{"orient":"top","values":[-1000,-500,0,500,1000],"title":null}},"y":{"field":"value","type":"quantitative","axis":{"orient":"right","values":[-1,-0.5,0],"title":null}}}}],"resolve":{"axis":{"x":"independent","y":"independent"}}},
{"data":{"name":"JUN_SYDH_5"},"width":301,"height":520,"layer":[{"mark":{"type":"line","interpolate":"monotone","clip":true},"encoding":{"x":{"field":"pos","type":"quantitative","scale":{"domain":[-1000,1000],"nice":false,"zero":false},"axis":{"values":[-1000,-500,0,500,1000],"format":"d","title":null,"labelOffset":{"condition":[{"test":"datum.value==-1000","value":24},{"test":"datum.value==-500","value":18},{"test":"datum.value==500","value":11},{"test":"datum.value==1000","value":17}],"value":-2}}},"y":{"field":"value","type":"quantitative","scale":{"domain":[-1.112,0.249],"nice":false,"zero":false},"axis":{"values":[-1,-0.5,0],"format":".1f","title":null}},"color":{"datum":"region","type":"nominal","legend":{"title":null,"orient":"none","legendX":2204,"legendY":223}}}},{"mark":{"type":"line","opacity":0},"encoding":{"x":{"field":"pos","type":"quantitative","axis":{"orient":"top","values":[-1000,-500,0,500,1000],"title":null}},"y":{"field":"value","type":"quantitative","axis":{"orient":"right","values":[-1,-0.5,0],"title":null}}}}],"resolve":{"axis":{"x":"independent","y":"independent"}}}
],
"config":{
"font":"DejaVu Sans",
"view":{"stroke":"black","strokeWidth":3.5},
"range":{"category":["#5b6a9f"]},
"line":{"strokeWidth":3.3},
"axis":{"grid":false,"domain":false,"tickColor":"black","tickWidth":2,"tickSize":-16,"labelColor":"black","labelFont":"DejaVu Sans","labelFlush":false,"labelOverlap":false,"labelBound":false,"titleColor":"black","titleFont":"DejaVu Sans","titleFontWeight":"normal","titleFontSize":48,"titlePadding":20},
"axisX":{"labelFontSize":28,"labelAngle":-45,"labelAlign":"right","labelBaseline":"top","labelPadding":35},
"axisY":{"labelFontSize":28,"labelPadding":30},
"axisTop":{"labels":false},
"axisRight":{"labels":false},
"title":{"fontSize":44.5,"fontWeight":"normal","font":"DejaVu Sans","color":"black","offset":16,"baseline":"alphabetic"},
"legend":{"strokeColor":"black","strokeWidth":3,"padding":17,"labelFontSize":39,"labelFont":"DejaVu Sans","labelColor":"black","symbolType":"stroke","symbolSize":441,"symbolStrokeWidth":3.3,"labelOffset":44,"cornerRadius":0}
}
}
